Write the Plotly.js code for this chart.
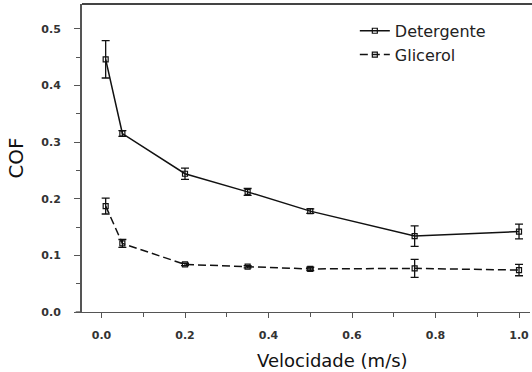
<!DOCTYPE html>
<html>
<head>
<meta charset="utf-8">
<script src="https://cdn.plot.ly/plotly-3.0.1.min.js"></script>
<style>html,body{margin:0;padding:0;background:#fff;}#chart{width:532px;height:372px;}</style>
</head>
<body>
<div id="chart"></div>
<script>
var velocidade = [0.01, 0.05, 0.2, 0.35, 0.5, 0.75, 1.0];
var detergente = [0.446, 0.315, 0.244, 0.212, 0.178, 0.134, 0.142];
var detergenteErr = [0.033, 0.005, 0.010, 0.006, 0.004, 0.018, 0.013];
var glicerol = [0.187, 0.121, 0.084, 0.080, 0.076, 0.077, 0.074];
var glicerolErr = [0.014, 0.007, 0.002, 0.002, 0.003, 0.016, 0.010];
var tickLabels = ['0.0', '0.2', '0.4', '0.6', '0.8', '1.0'];
var yTickLabels = ['0.0', '0.1', '0.2', '0.3', '0.4', '0.5'];

var errStyle = {type: 'data', visible: true, color: '#111', thickness: 1.3, width: 4};

var traces = [
  {
    x: velocidade, y: detergente, name: 'Detergente', legendgroup: 'a',
    type: 'scatter', mode: 'lines+markers',
    line: {color: '#111', width: 1.5},
    marker: {symbol: 'square-open', size: 5, color: '#111', line: {width: 1.2}},
    error_y: Object.assign({array: detergenteErr}, errStyle)
  },
  {
    x: velocidade, y: glicerol, name: 'Glicerol', legendgroup: 'b',
    type: 'scatter', mode: 'lines+markers',
    line: {color: '#111', width: 1.5, dash: '8px,4px'},
    marker: {symbol: 'square-open', size: 5, color: '#111', line: {width: 1.2}},
    error_y: Object.assign({array: glicerolErr}, errStyle)
  }
];

var FONT = 'DejaVu Sans, Verdana, sans-serif';
var tickFont = {family: FONT, size: 11, color: '#333', weight: 'bold'};

var layout = {
  width: 532, height: 372,
  margin: {l: 82, r: 2, t: 4, b: 60},
  paper_bgcolor: '#fff', plot_bgcolor: '#fff',
  showlegend: true,
  legend: {
    x: 0.609, y: 0.968, xanchor: 'left', yanchor: 'top',
    font: {family: FONT, size: 16, color: '#222'},
    bgcolor: 'rgba(0,0,0,0)', tracegroupgap: 0, itemwidth: 30
  },
  xaxis: {
    range: [-0.0467, 1.0263],
    tickmode: 'array', tickvals: [0, 0.2, 0.4, 0.6, 0.8, 1.0],
    ticktext: tickLabels,
    ticks: 'outside', ticklen: 5, tickcolor: '#555', tickwidth: 1,
    minor: {dtick: 0.1, ticks: 'outside', ticklen: 4, tickcolor: '#555'},
    showline: true, linecolor: '#555', linewidth: 1.3,
    showgrid: false, zeroline: false,
    tickfont: tickFont, ticklabelstandoff: 7
  },
  yaxis: {
    range: [0, 0.5436],
    tickmode: 'array', tickvals: [0, 0.1, 0.2, 0.3, 0.4, 0.5],
    ticktext: yTickLabels,
    ticks: 'outside', ticklen: 6, tickcolor: '#555', tickwidth: 1,
    minor: {dtick: 0.05, ticks: 'outside', ticklen: 4, tickcolor: '#555'},
    showline: true, linecolor: '#555', linewidth: 2,
    showgrid: false, zeroline: false,
    tickfont: tickFont, ticklabelstandoff: 11,
    title: {text: 'COF', standoff: 12,
      font: {family: FONT, size: 20, color: '#111'}}
  },
  annotations: [
    {text: 'Velocidade (m/s)', xref: 'paper', yref: 'paper',
     x: (332 - 82) / 448, y: -(360 - 312) / 308, xanchor: 'center', yanchor: 'middle',
     showarrow: false, font: {family: FONT, size: 18, color: '#111'}}
  ],
  shapes: [
    {type: 'line', xref: 'paper', yref: 'paper', x0: 0, x1: 1.01, y0: 1, y1: 1,
     line: {color: '#444', width: 2.2}},
    {type: 'line', xref: 'paper', yref: 'paper', x0: -0.014, x1: 0, y0: 0, y1: 0,
     line: {color: '#555', width: 1.3}}
  ]
};

Plotly.newPlot('chart', traces, layout, {displayModeBar: false, staticPlot: true});
</script>
</body>
</html>
